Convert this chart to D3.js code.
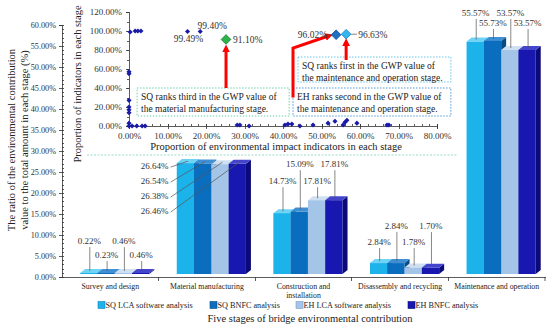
<!doctype html>
<html>
<head>
<meta charset="utf-8"/>
<style>
    html, body { margin: 0; padding: 0; background: #fff; }
    svg { display: block; font-family: "Liberation Serif", "Times New Roman", serif; }
    .axis path, .axis line { fill: none; stroke: #333; stroke-width: 0.8; shape-rendering: crispEdges; }
</style>
<script src="https://d3js.org/d3.v7.min.js"></script>
</head>
<body>
<svg id="chart" width="550" height="330"></svg>
<script>
// ---- data: bar chart ----
var stages = ["Survey and design", "Material manufacturing", "Construction and installation",
              "Disassembly and recycling", "Maintenance and operation"];
var seriesNames = ["SQ LCA software analysis", "SQ BNFC analysis", "EH LCA software analysis", "EH BNFC analysis"];
var sqLca  = [0.22, 26.64, 14.73, 2.84, 55.57];
var sqBnfc = [0.23, 26.54, 15.09, 2.84, 55.73];
var ehLca  = [0.46, 26.38, 17.81, 1.78, 53.57];
var ehBnfc = [0.46, 26.46, 17.81, 1.70, 53.57];
var yTicks = [0, 5, 10, 15, 20, 25, 30, 35, 40, 45, 50, 55, 60];

// ---- data: inset scatter ----
var ptX = [0.3, 1.6, 2.3, 3.1, 0, 0, 0, 0, 0, 0, 0, 0, 0.8, 2.0, 3.4, 4.2, 15.2, 18.5,
           28.1, 28.8, 31.2, 40.5, 41.3, 42.3, 44.4, 47.8, 51.7, 53.5, 55.6, 56.1, 56.6, 59.2, 67.0, 67.5];
var ptY = [99, 100, 100, 100, 57, 55, 27, 20, 17, 14, 3, 0, 0, 0, 0, 0, 99.49, 99.40,
           1, 1, 0, 1, 2, 2, 0, 1, 3, 5, 1, 4, 6, 3, 1, 1];
var hlX = [25.2, 53.8, 56.4];
var hlY = [91.10, 96.02, 96.63];
var insetXTicks = [0, 10, 20, 30, 40, 50, 60, 70, 80];
var insetYTicks = [0, 20, 40, 60, 80, 100, 120];

var svg = d3.select("#chart");
var fmt = function(v) { return v.toFixed(2) + "%"; };

// colours per series: front, top, side
var cols = [
    {front: "#1cb2ea", top: "#6fd3f6", side: "#0d86b8"},
    {front: "#0b6dbd", top: "#3e8fd3", side: "#064c86"},
    {front: "#a4c5e7", top: "#cfe0f2", side: "#7a9fc6"},
    {front: "#1818b0", top: "#4444cc", side: "#0a0a78"}
];
var seriesVals = [sqLca, sqBnfc, ehLca, ehBnfc];

// ================= main bar chart =================
var y = d3.scaleLinear().domain([0, 60]).range([277, 25]);
var x = d3.scaleBand().domain(stages).range([62, 545]);
var bw = x.bandwidth();
var barW = bw * 0.179, barOff = bw * 0.188;
var dx = 5, dy = 4;

// y axis
var yAx = svg.append("g").attr("class", "axis").attr("transform", "translate(62,0)")
    .call(d3.axisLeft(y).tickValues(yTicks).tickFormat(fmt).tickSize(3));
yAx.selectAll("text").attr("font-size", 8.2).attr("fill", "#333")
    .attr("font-family", "Liberation Serif, serif");
svg.append("g").attr("class", "axis").attr("transform", "translate(62,0)")
    .call(d3.axisRight(y).tickValues(d3.range(0, 61, 1)).tickFormat("").tickSize(2))
    .select(".domain").remove();

// x axis
var xAx = svg.append("g").attr("class", "axis").attr("transform", "translate(0,277)")
    .call(d3.axisBottom(x).tickSize(0).tickFormat(""));
xAx.selectAll(".bnd").data(stages.slice(1)).enter().append("line")
    .attr("x1", function(d) { return x(d); }).attr("x2", function(d) { return x(d); })
    .attr("y1", 0).attr("y2", 4);
svg.append("line").attr("x1", 545).attr("x2", 545).attr("y1", 277).attr("y2", 281)
    .attr("stroke", "#333").attr("stroke-width", 0.8);

stages.forEach(function(s) {
    var t = svg.append("text").attr("x", x(s) + bw / 2).attr("y", 289)
        .attr("text-anchor", "middle").attr("font-size", 7.8).attr("fill", "#222");
    if (s === "Construction and installation") {
        t.append("tspan").attr("x", x(s) + bw / 2).text("Construction and");
        t.append("tspan").attr("x", x(s) + bw / 2).attr("dy", 8.5).text("installation");
    } else t.text(s);
});

// bars
var bars = svg.append("g");
var floorY = y(0) - 3;
stages.forEach(function(s, si) {
    seriesVals.forEach(function(vals, k) {
        var v = vals[si], c = cols[k];
        var x0 = x(s) + barOff + k * barW;
        var yt = Math.min(y(v) - 2, floorY - 1);
        var g = bars.append("g");
        g.append("path").attr("fill", c.side)
            .attr("d", "M" + (x0 + barW) + "," + yt + "L" + (x0 + barW + dx) + "," + (yt - dy) +
                "L" + (x0 + barW + dx) + "," + (floorY - dy) + "L" + (x0 + barW) + "," + floorY + "Z");
        g.append("path").attr("fill", c.top)
            .attr("d", "M" + x0 + "," + yt + "L" + (x0 + dx) + "," + (yt - dy) +
                "L" + (x0 + barW + dx) + "," + (yt - dy) + "L" + (x0 + barW) + "," + yt + "Z");
        g.append("rect").attr("x", x0).attr("y", yt).attr("width", barW).attr("height", floorY - yt)
            .attr("fill", c.front);
    });
});

// value labels with leader lines
// label rows (offset above the tallest bar of the stage) and which bars use the upper row
var rowOff = [[-33, -19], null, [-37, -20], [-38, -22], [-29, -19]];
var upperEven = [true, null, false, false, true];
var labels = svg.append("g").attr("font-size", 9).attr("fill", "#333");
stages.forEach(function(s, si) {
    var maxV = d3.max(seriesVals, function(vals) { return vals[si]; });
    seriesVals.forEach(function(vals, k) {
        var v = vals[si];
        var x0 = x(s) + barOff + k * barW;
        var cx = x0 + barW / 2 + dx / 2;
        var yt = Math.min(y(v) - 2, floorY - 1) - dy / 2;
        if (si === 1) {
            var ly = y(maxV) + 2 + k * 15;
            labels.append("text").attr("x", x(s) + 10).attr("y", ly)
                .attr("text-anchor", "end").attr("dominant-baseline", "middle").text(fmt(v));
            labels.append("line").attr("x1", x(s) + 12).attr("y1", ly)
                .attr("x2", cx).attr("y2", yt).attr("stroke", "#555").attr("stroke-width", 0.7);
        } else {
            var upper = (k % 2 === 0) === upperEven[si];
            var ly2 = y(maxV) + rowOff[si][upper ? 0 : 1];
            labels.append("text").attr("x", cx - 2).attr("y", ly2)
                .attr("text-anchor", "middle").attr("dominant-baseline", "middle").text(fmt(v));
            labels.append("line").attr("x1", cx - 1.5).attr("y1", ly2 + 5)
                .attr("x2", cx - 1.5).attr("y2", yt).attr("stroke", "#555").attr("stroke-width", 0.7);
        }
    });
});

// legend
var legX = [98, 210, 296, 408];
seriesNames.forEach(function(n, k) {
    svg.append("rect").attr("x", legX[k]).attr("y", 301.5).attr("width", 7).attr("height", 7)
        .attr("fill", cols[k].front).attr("stroke", cols[k].side).attr("stroke-width", 0.6);
    svg.append("text").attr("x", legX[k] + 7.5).attr("y", 308).attr("font-size", 8.2)
        .attr("fill", "#222").text(n);
});

// titles
svg.append("text").attr("x", 310).attr("y", 322).attr("text-anchor", "middle")
    .attr("font-size", 10.5).attr("fill", "#222").text("Five stages of bridge environmental contribution");
var yt1 = svg.append("text").attr("transform", "translate(15,140) rotate(-90)")
    .attr("text-anchor", "middle").attr("font-size", 10.5).attr("fill", "#222");
yt1.append("tspan").attr("x", 0).attr("y", 0).text("The ratio of the environmental contribution");
yt1.append("tspan").attr("x", 0).attr("y", 13).text("value to the total amount in each stage (%)");

// dashed separator
svg.append("line").attr("x1", 87).attr("x2", 458).attr("y1", 155).attr("y2", 155)
    .attr("stroke", "#7fd3c0").attr("stroke-width", 0.8).attr("stroke-dasharray", "2,1.5");

// ================= inset scatter =================
var xi = d3.scaleLinear().domain([0, 80]).range([129, 437]);
var yi = d3.scaleLinear().domain([0, 120]).range([126, 12]);

var ixAx = svg.append("g").attr("class", "axis").attr("transform", "translate(0,126)")
    .call(d3.axisBottom(xi).tickValues(insetXTicks).tickFormat(fmt).tickSize(2.5).tickPadding(4));
ixAx.selectAll(".tick line").attr("y1", -2.5);
ixAx.selectAll("text").attr("font-size", 9).attr("fill", "#333").attr("font-family", "Liberation Serif, serif");
svg.append("g").attr("class", "axis").attr("transform", "translate(0,126)")
    .call(d3.axisTop(xi).tickValues(d3.range(0, 81, 2)).tickFormat("").tickSize(2))
    .select(".domain").remove();

var iyAx = svg.append("g").attr("class", "axis").attr("transform", "translate(129,0)")
    .call(d3.axisLeft(yi).tickValues(insetYTicks).tickFormat(fmt).tickSize(3).tickPadding(4));
iyAx.selectAll("text").attr("font-size", 9).attr("fill", "#333").attr("font-family", "Liberation Serif, serif");
svg.append("g").attr("class", "axis").attr("transform", "translate(129,0)")
    .call(d3.axisLeft(yi).tickValues(d3.range(0, 121, 10)).tickFormat("").tickSize(2))
    .select(".domain").remove();

svg.append("text").attr("x", 276).attr("y", 150).attr("text-anchor", "middle")
    .attr("font-size", 10.5).attr("fill", "#222")
    .text("Proportion of environmental impact indicators in each stage");
svg.append("text").attr("transform", "translate(81,84) rotate(-90)").attr("text-anchor", "middle")
    .attr("font-size", 10.5).attr("fill", "#222").text("Proportion of indicators in each stage");

// annotation boxes
var boxes = [
    {x0: 2.1, x1: 41.6, y0: 40, y1: 10.5, stroke: "#5ccaa4",
     lines: ["SQ ranks third in the GWP value of", "the material manufacturing stage."]},
    {x0: 43.9, x1: 83.6, y0: 72.6, y1: 46.3, stroke: "#57c0e6",
     lines: ["SQ ranks first in the GWP value of", "the maintenance and operation stage."]},
    {x0: 42.6, x1: 83.6, y0: 40, y1: 10.5, stroke: "#3d8ed4",
     lines: ["EH ranks second in the GWP value of", "the maintenance and operation stage."]}
];
boxes.forEach(function(b) {
    svg.append("rect").attr("x", xi(b.x0)).attr("y", yi(b.y0))
        .attr("width", xi(b.x1) - xi(b.x0)).attr("height", yi(b.y1) - yi(b.y0))
        .attr("fill", "#fff").attr("stroke", b.stroke).attr("stroke-width", 0.9)
        .attr("stroke-dasharray", "1.5,1.5");
    b.lines.forEach(function(l, i) {
        svg.append("text").attr("x", xi(b.x0) + 4).attr("y", yi(b.y0) + 12 + i * 12)
            .attr("font-size", 9.5).attr("fill", "#222").text(l);
    });
});

// red arrows
var defs = svg.append("defs");
defs.append("marker").attr("id", "ah").attr("viewBox", "0 0 10 10").attr("refX", 5).attr("refY", 5)
    .attr("markerWidth", 2.6).attr("markerHeight", 2.6).attr("orient", "auto")
    .append("path").attr("d", "M0,0L10,5L0,10Z").attr("fill", "#ff0000");
var arrow = d3.line();
svg.append("path").attr("fill", "none").attr("stroke", "#ff0000").attr("stroke-width", 3)
    .attr("marker-end", "url(#ah)")
    .attr("d", arrow([[xi(hlX[0]), yi(40)], [xi(hlX[0]), yi(hlY[0]) + 9]]));
svg.append("path").attr("fill", "none").attr("stroke", "#ff0000").attr("stroke-width", 3)
    .attr("stroke-linejoin", "miter").attr("marker-end", "url(#ah)")
    .attr("d", arrow([[xi(42.6), yi(30)], [xi(42.6), yi(82)], [xi(hlX[1]) - 7, yi(hlY[1]) + 1]]));
svg.append("path").attr("fill", "none").attr("stroke", "#ff0000").attr("stroke-width", 3)
    .attr("marker-end", "url(#ah)")
    .attr("d", arrow([[xi(hlX[2]), yi(72.6) + 3], [xi(hlX[2]), yi(hlY[2]) + 8]]));

// points
var sym = d3.symbol().type(d3.symbolSquare);
svg.append("g").selectAll("path").data(ptX).enter().append("path")
    .attr("transform", function(d, i) { return "translate(" + xi(d) + "," + yi(ptY[i]) + ") rotate(45)"; })
    .attr("d", sym.size(13)())
    .attr("fill", "#1a1aa8");

var hlFill = ["#2cb34a", "#1f6fc4", "#35b5ee"];
var hlStroke = ["#137a2c", "#0d4a8e", "#1a86bd"];
hlX.forEach(function(d, i) {
    svg.append("path").attr("transform", "translate(" + xi(d) + "," + yi(hlY[i]) + ") rotate(45)")
        .attr("d", sym.size(46)()).attr("fill", hlFill[i]).attr("stroke", hlStroke[i]).attr("stroke-width", 0.8);
});

// point labels
var pl = svg.append("g").attr("font-size", 9.5).attr("fill", "#333");
pl.append("text").attr("x", xi(ptX[16]) + 1).attr("y", yi(ptY[16]) + 11).attr("text-anchor", "middle").text(fmt(ptY[16]));
pl.append("text").attr("x", xi(ptX[17]) + 12).attr("y", yi(ptY[17]) - 3).attr("text-anchor", "middle").text(fmt(ptY[17]));
pl.append("text").attr("x", xi(hlX[0]) + 7).attr("y", yi(hlY[0]) + 3.5).text(fmt(hlY[0]));
pl.append("text").attr("x", xi(hlX[1]) - 9).attr("y", yi(hlY[1]) + 3.5).attr("text-anchor", "end").text(fmt(hlY[1]));
pl.append("text").attr("x", xi(hlX[2]) + 12).attr("y", yi(hlY[2]) + 3.5).text(fmt(hlY[2]));
pl.append("line").attr("x1", xi(hlX[1]) - 9).attr("x2", xi(hlX[1]) - 5)
    .attr("y1", yi(hlY[1])).attr("y2", yi(hlY[1])).attr("stroke", "#555").attr("stroke-width", 0.7);
pl.append("line").attr("x1", xi(hlX[2]) + 5).attr("x2", xi(hlX[2]) + 11)
    .attr("y1", yi(hlY[2])).attr("y2", yi(hlY[2])).attr("stroke", "#555").attr("stroke-width", 0.7);
</script>
</body>
</html>
